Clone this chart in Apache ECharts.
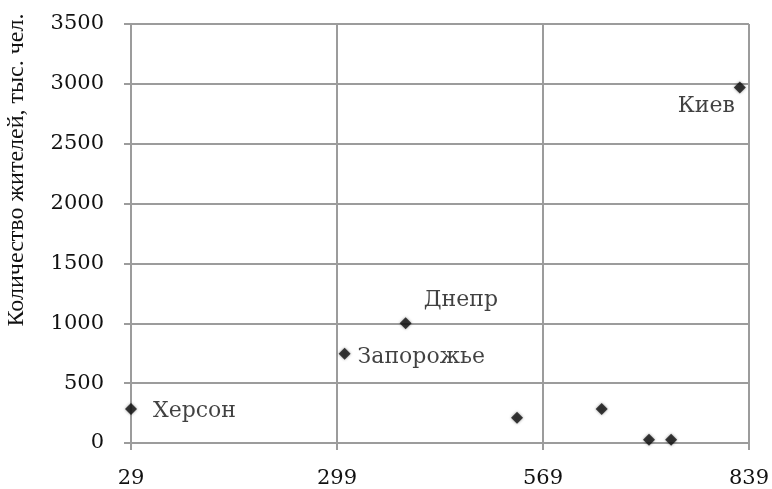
<!DOCTYPE html>
<html>
<head>
<meta charset="utf-8">
<script src="https://cdn.jsdelivr.net/npm/echarts@6/dist/echarts.min.js"></script>
<style>
html,body{margin:0;padding:0;background:#fff;}
#chart{width:772px;height:489px;}
</style>
</head>
<body>
<div id="chart"></div>
<script>
// Data
var cityNames = ['Херсон', 'Запорожье', 'Днепр', '', '', '', '', 'Киев'];
var xValues = [29, 309, 389, 535, 646, 708, 737, 827];
var yValues = [285, 745, 1000, 210, 285, 28, 28, 2970];
var xTickLabels = ['29', '299', '569', '839'];
var yAxisTitle = 'Количество жителей, тыс. чел.';

var xMin = 29, xMax = 839, xStep = 270;

// label placement (style only)
var labelStyles = {
  'Херсон':    {align: 'left',  offset: [22, 2]},
  'Запорожье': {align: 'left',  offset: [13, 3]},
  'Днепр':     {align: 'left',  offset: [18, -23]},
  'Киев':      {align: 'right', offset: [-5, 19]}
};

var textColor = '#111';
var data = xValues.map(function (x, i) {
  var item = { value: [x - xMin, yValues[i]], name: cityNames[i] };
  var ls = labelStyles[cityNames[i]];
  if (ls) {
    item.label = {
      show: true, position: 'inside', align: ls.align, verticalAlign: 'middle',
      offset: ls.offset, formatter: cityNames[i],
      fontFamily: 'DejaVu Serif', fontSize: 22, color: textColor
    };
  }
  return item;
});

var gridColor = '#9c9c9c';
var chart = echarts.init(document.getElementById('chart'));
chart.setOption({
  animation: false,
  backgroundColor: '#fff',
  grid: { left: 131, right: 23, top: 24, bottom: 46, containLabel: false },
  xAxis: {
    type: 'value', min: 0, max: xMax - xMin, interval: xStep,
    axisLine: { show: true, lineStyle: { color: gridColor, width: 2 } },
    axisTick: { show: true, length: 7, lineStyle: { color: gridColor, width: 2 } },
    splitLine: { show: true, lineStyle: { color: gridColor, width: 2 } },
    axisLabel: {
      margin: 25, fontFamily: 'DejaVu Serif', fontSize: 21, color: textColor,
      formatter: function (v) { return xTickLabels[Math.round(v / xStep)]; }
    }
  },
  yAxis: {
    type: 'value', min: 0, max: 3500, interval: 500,
    axisLine: { show: true, lineStyle: { color: gridColor, width: 2 } },
    axisTick: { show: true, length: 7, lineStyle: { color: gridColor, width: 2 } },
    splitLine: { show: true, lineStyle: { color: gridColor, width: 2 } },
    axisLabel: {
      margin: 27, fontFamily: 'DejaVu Serif', fontSize: 21, color: textColor,
      formatter: function (v) { return String(v); }
    }
  },
  graphic: [{
    type: 'text', x: 17, y: 170, rotation: Math.PI / 2,
    style: {
      text: yAxisTitle, fontFamily: 'Liberation Serif', fontSize: 24, fill: textColor,
      textAlign: 'center', textVerticalAlign: 'middle'
    }
  }],
  series: [{
    type: 'scatter', symbol: 'diamond', symbolSize: 12,
    itemStyle: { color: '#111', shadowBlur: 3, shadowColor: 'rgba(0,0,0,0.5)' },
    label: { show: false },
    data: data
  }]
});
</script>
</body>
</html>
